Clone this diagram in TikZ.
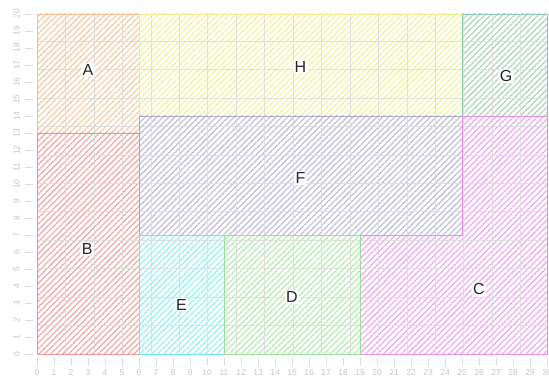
\documentclass[tikz,border=0pt]{standalone}
\usepackage{fontspec}
\setmainfont{Liberation Sans}
\usetikzlibrary{patterns.meta}
\definecolor{hA}{HTML}{F3C597}\definecolor{bA}{HTML}{EFB584}
\definecolor{hB}{HTML}{EE9C9C}\definecolor{bB}{HTML}{E88888}
\definecolor{hH}{HTML}{F0F094}\definecolor{bH}{HTML}{ECEC80}
\definecolor{hG}{HTML}{9ED0B6}\definecolor{bG}{HTML}{86C2A2}
\definecolor{hF}{HTML}{B6B6D6}\definecolor{bF}{HTML}{A2A2CA}
\definecolor{hC}{HTML}{EE9CEE}\definecolor{bC}{HTML}{E482E4}
\definecolor{hE}{HTML}{8CEEEE}\definecolor{bE}{HTML}{66E2E2}
\definecolor{hD}{HTML}{A8EAA8}\definecolor{bD}{HTML}{8EDE8E}
\definecolor{gridc}{HTML}{DCDCDC}
\definecolor{tickc}{HTML}{C4C4C4}
\tikzset{
  region/.style={
    pattern={Lines[angle=45,distance=4.2pt,line width=1.3pt]}, pattern color=#1!85},
  edge/.style={draw=#1!90, line width=0.8pt},
  lbl/.style={font=\fontsize{16}{16}\selectfont, text=black!85, fill=white, fill opacity=0.85, text opacity=1, inner sep=1.5pt, rounded corners=3pt},
  tlbl/.style={font=\fontsize{8.5}{8.5}\selectfont, text=tickc, inner sep=0pt},
  tk/.style={draw=gridc, line width=0.6pt}
}
\begin{document}
\begin{tikzpicture}[x=17pt,y=17pt]
\useasboundingbox (-37pt,-27pt) rectangle (512pt,354pt);
% regions
\path[region=hA] (0,13) rectangle (6,20);
\path[region=hB] (0,0) rectangle (6,13);
\path[region=hH] (6,14) rectangle (25,20);
\path[region=hG] (25,14) rectangle (30,20);
\path[region=hF] (6,7) rectangle (25,14);
\path[region=hC] (19,0) -- (30,0) -- (30,14) -- (25,14) -- (25,7) -- (19,7) -- cycle;
\path[region=hE] (6,0) rectangle (11,7);
\path[region=hD] (11,0) rectangle (19,7);
% grid
\draw[gridc, line width=0.6pt, opacity=0.85] (0,0) grid (30,20);
% borders on top
\draw[edge=bA] (0,13) rectangle (6,20);
\draw[edge=bB] (0,0) rectangle (6,13);
\draw[edge=bH] (6,14) rectangle (25,20);
\draw[edge=bG] (25,14) rectangle (30,20);
\draw[edge=bF] (6,7) rectangle (25,14);
\draw[edge=bC] (19,0) -- (30,0) -- (30,14) -- (25,14) -- (25,7) -- (19,7) -- cycle;
\draw[edge=bE] (6,0) rectangle (11,7);
\draw[edge=bD] (11,0) rectangle (19,7);
% axes ticks and labels
\foreach \i in {0,...,30} {
  \draw[tk] (\i,-0.24) -- (\i,-0.7);
  \node[tlbl] (xl\i) at (\i,-1.1) {\i};
}
\foreach \j in {0,...,20} {
  \draw[tk] (-0.24,\j) -- (-0.7,\j);
  \node[tlbl, rotate=90] (yl\j) at (-1.2,\j) {\j};
}
% region labels
\node[lbl] (A) at (3,16.7) {A};
\node[lbl] (B) at (2.95,6.2) {B};
\node[lbl] (H) at (15.5,16.9) {H};
\node[lbl] (G) at (27.6,16.35) {G};
\node[lbl] (F) at (15.5,10.35) {F};
\node[lbl] (E) at (8.5,2.9) {E};
\node[lbl] (D) at (15,3.35) {D};
\node[lbl] (C) at (26,3.8) {C};
\end{tikzpicture}
\end{document}
